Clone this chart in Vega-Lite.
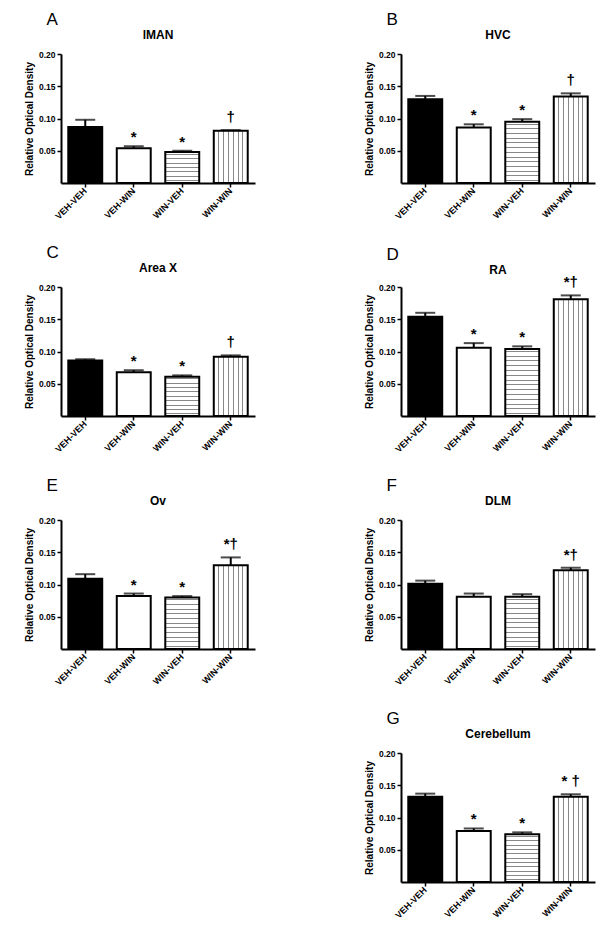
{
"$schema": "https://vega.github.io/schema/vega-lite/v6.json",
"padding": {"left": 24, "top": 11, "right": 5, "bottom": 5},
"datasets": {"d": [
{"panel":"A","cond":"VEH-VEH","mean":0.087,"upper":0.098,"sig":""},
{"panel":"A","cond":"VEH-WIN","mean":0.054,"upper":0.057,"sig":"*"},
{"panel":"A","cond":"WIN-VEH","mean":0.048,"upper":0.050,"sig":"*"},
{"panel":"A","cond":"WIN-WIN","mean":0.081,"upper":0.082,"sig":"†"},
{"panel":"B","cond":"VEH-VEH","mean":0.130,"upper":0.135,"sig":""},
{"panel":"B","cond":"VEH-WIN","mean":0.086,"upper":0.091,"sig":"*"},
{"panel":"B","cond":"WIN-VEH","mean":0.095,"upper":0.099,"sig":"*"},
{"panel":"B","cond":"WIN-WIN","mean":0.134,"upper":0.139,"sig":"†"},
{"panel":"C","cond":"VEH-VEH","mean":0.086,"upper":0.088,"sig":""},
{"panel":"C","cond":"VEH-WIN","mean":0.068,"upper":0.071,"sig":"*"},
{"panel":"C","cond":"WIN-VEH","mean":0.061,"upper":0.063,"sig":"*"},
{"panel":"C","cond":"WIN-WIN","mean":0.092,"upper":0.094,"sig":"†"},
{"panel":"D","cond":"VEH-VEH","mean":0.154,"upper":0.160,"sig":""},
{"panel":"D","cond":"VEH-WIN","mean":0.106,"upper":0.113,"sig":"*"},
{"panel":"D","cond":"WIN-VEH","mean":0.104,"upper":0.108,"sig":"*"},
{"panel":"D","cond":"WIN-WIN","mean":0.181,"upper":0.187,"sig":"*†"},
{"panel":"E","cond":"VEH-VEH","mean":0.109,"upper":0.116,"sig":""},
{"panel":"E","cond":"VEH-WIN","mean":0.082,"upper":0.086,"sig":"*"},
{"panel":"E","cond":"WIN-VEH","mean":0.080,"upper":0.082,"sig":"*"},
{"panel":"E","cond":"WIN-WIN","mean":0.130,"upper":0.142,"sig":"*†"},
{"panel":"F","cond":"VEH-VEH","mean":0.101,"upper":0.106,"sig":""},
{"panel":"F","cond":"VEH-WIN","mean":0.081,"upper":0.086,"sig":""},
{"panel":"F","cond":"WIN-VEH","mean":0.081,"upper":0.085,"sig":""},
{"panel":"F","cond":"WIN-WIN","mean":0.122,"upper":0.126,"sig":"*†"},
{"panel":"G","cond":"VEH-VEH","mean":0.132,"upper":0.137,"sig":""},
{"panel":"G","cond":"VEH-WIN","mean":0.079,"upper":0.083,"sig":"*"},
{"panel":"G","cond":"WIN-VEH","mean":0.074,"upper":0.077,"sig":"*"},
{"panel":"G","cond":"WIN-WIN","mean":0.132,"upper":0.136,"sig":"* †"}
]},
"columns": 2,
"spacing": {"row": 23, "column": 109},
"concat": [
{"title": {"text": "A", "anchor": "start", "fontSize": 17, "fontWeight": "normal", "dx": 22, "offset": 0, "frame": "bounds"},
 "vconcat": [{
  "width": 194, "height": 129,
  "title": {"text": "lMAN", "fontSize": 12, "fontWeight": "bold", "offset": 8},
  "data": {"name": "d"},
  "transform": [{"filter": "datum.panel==='A'"}],
  "encoding": {"x": {"field": "cond", "type": "nominal", "sort": ["VEH-VEH","VEH-WIN","WIN-VEH","WIN-WIN"], "scale": {"paddingInner": 0.3, "paddingOuter": 0.15}, "axis": {"title": null}}},
  "layer": [
   {"mark": {"type": "bar", "stroke": "black", "strokeWidth": 2},
    "encoding": {
     "y": {"field": "mean", "type": "quantitative", "title": "Relative Optical Density", "scale": {"domain": [0, 0.2], "nice": false}, "axis": {"values": [0.05, 0.1, 0.15, 0.2], "format": ".2f"}},
     "fill": {"condition": [
       {"test": "datum.cond==='VEH-VEH'", "value": "black"},
       {"test": "datum.cond==='WIN-VEH'", "value": {"gradient": "linear", "x1": 0, "y1": 0, "x2": 0, "y2": 1, "stops": [{"offset":0,"color":"#fff"},{"offset":0.055,"color":"#fff"},{"offset":0.055,"color":"#888"},{"offset":0.088,"color":"#888"},{"offset":0.088,"color":"#fff"},{"offset":0.198,"color":"#fff"},{"offset":0.198,"color":"#888"},{"offset":0.230,"color":"#888"},{"offset":0.230,"color":"#fff"},{"offset":0.341,"color":"#fff"},{"offset":0.341,"color":"#888"},{"offset":0.373,"color":"#888"},{"offset":0.373,"color":"#fff"},{"offset":0.484,"color":"#fff"},{"offset":0.484,"color":"#888"},{"offset":0.516,"color":"#888"},{"offset":0.516,"color":"#fff"},{"offset":0.627,"color":"#fff"},{"offset":0.627,"color":"#888"},{"offset":0.659,"color":"#888"},{"offset":0.659,"color":"#fff"},{"offset":0.770,"color":"#fff"},{"offset":0.770,"color":"#888"},{"offset":0.802,"color":"#888"},{"offset":0.802,"color":"#fff"},{"offset":0.913,"color":"#fff"},{"offset":0.913,"color":"#888"},{"offset":0.945,"color":"#888"},{"offset":0.945,"color":"#fff"},{"offset":1,"color":"#fff"}]}},
       {"test": "datum.cond==='WIN-WIN'", "value": {"gradient": "linear", "x1": 0, "y1": 0, "x2": 1, "y2": 0, "stops": [{"offset":0,"color":"#fff"},{"offset":0.128,"color":"#fff"},{"offset":0.128,"color":"#888"},{"offset":0.158,"color":"#888"},{"offset":0.158,"color":"#fff"},{"offset":0.271,"color":"#fff"},{"offset":0.271,"color":"#888"},{"offset":0.300,"color":"#888"},{"offset":0.300,"color":"#fff"},{"offset":0.414,"color":"#fff"},{"offset":0.414,"color":"#888"},{"offset":0.443,"color":"#888"},{"offset":0.443,"color":"#fff"},{"offset":0.557,"color":"#fff"},{"offset":0.557,"color":"#888"},{"offset":0.586,"color":"#888"},{"offset":0.586,"color":"#fff"},{"offset":0.700,"color":"#fff"},{"offset":0.700,"color":"#888"},{"offset":0.729,"color":"#888"},{"offset":0.729,"color":"#fff"},{"offset":0.842,"color":"#fff"},{"offset":0.842,"color":"#888"},{"offset":0.871,"color":"#888"},{"offset":0.871,"color":"#fff"},{"offset":1,"color":"#fff"}]}}
      ], "value": "white"}
    }},
   {"mark": {"type": "rule", "strokeWidth": 2, "color": "black"}, "encoding": {"y": {"field": "mean", "type": "quantitative", "title": "Relative Optical Density"}, "y2": {"field": "upper"}}},
   {"mark": {"type": "tick", "size": 20, "thickness": 2, "color": "black"}, "encoding": {"y": {"field": "upper", "type": "quantitative", "title": "Relative Optical Density"}}},
   {"transform": [{"filter": "datum.sig==='*'"}], "mark": {"type": "text", "fontSize": 15, "fontWeight": "bold", "baseline": "alphabetic", "dy": -4, "color": "black"}, "encoding": {"y": {"field": "upper", "type": "quantitative", "title": "Relative Optical Density"}, "text": {"field": "sig"}}},
   {"transform": [{"filter": "datum.sig!=='*' && datum.sig!==''"}], "mark": {"type": "text", "fontSize": 15, "fontWeight": "bold", "baseline": "alphabetic", "dy": -8, "color": "black"}, "encoding": {"y": {"field": "upper", "type": "quantitative", "title": "Relative Optical Density"}, "text": {"field": "sig"}}}
  ]
 }]
},
{"title": {"text": "B", "anchor": "start", "fontSize": 17, "fontWeight": "normal", "dx": 22, "offset": 0, "frame": "bounds"},
 "vconcat": [{
  "width": 194, "height": 129,
  "title": {"text": "HVC", "fontSize": 12, "fontWeight": "bold", "offset": 8},
  "data": {"name": "d"},
  "transform": [{"filter": "datum.panel==='B'"}],
  "encoding": {"x": {"field": "cond", "type": "nominal", "sort": ["VEH-VEH","VEH-WIN","WIN-VEH","WIN-WIN"], "scale": {"paddingInner": 0.3, "paddingOuter": 0.15}, "axis": {"title": null}}},
  "layer": [
   {"mark": {"type": "bar", "stroke": "black", "strokeWidth": 2},
    "encoding": {
     "y": {"field": "mean", "type": "quantitative", "title": "Relative Optical Density", "scale": {"domain": [0, 0.2], "nice": false}, "axis": {"values": [0.05, 0.1, 0.15, 0.2], "format": ".2f"}},
     "fill": {"condition": [
       {"test": "datum.cond==='VEH-VEH'", "value": "black"},
       {"test": "datum.cond==='WIN-VEH'", "value": {"gradient": "linear", "x1": 0, "y1": 0, "x2": 0, "y2": 1, "stops": [{"offset":0,"color":"#fff"},{"offset":0.030,"color":"#fff"},{"offset":0.030,"color":"#888"},{"offset":0.047,"color":"#888"},{"offset":0.047,"color":"#fff"},{"offset":0.107,"color":"#fff"},{"offset":0.107,"color":"#888"},{"offset":0.124,"color":"#888"},{"offset":0.124,"color":"#fff"},{"offset":0.184,"color":"#fff"},{"offset":0.184,"color":"#888"},{"offset":0.201,"color":"#888"},{"offset":0.201,"color":"#fff"},{"offset":0.261,"color":"#fff"},{"offset":0.261,"color":"#888"},{"offset":0.277,"color":"#888"},{"offset":0.277,"color":"#fff"},{"offset":0.338,"color":"#fff"},{"offset":0.338,"color":"#888"},{"offset":0.354,"color":"#888"},{"offset":0.354,"color":"#fff"},{"offset":0.415,"color":"#fff"},{"offset":0.415,"color":"#888"},{"offset":0.431,"color":"#888"},{"offset":0.431,"color":"#fff"},{"offset":0.492,"color":"#fff"},{"offset":0.492,"color":"#888"},{"offset":0.508,"color":"#888"},{"offset":0.508,"color":"#fff"},{"offset":0.569,"color":"#fff"},{"offset":0.569,"color":"#888"},{"offset":0.585,"color":"#888"},{"offset":0.585,"color":"#fff"},{"offset":0.646,"color":"#fff"},{"offset":0.646,"color":"#888"},{"offset":0.662,"color":"#888"},{"offset":0.662,"color":"#fff"},{"offset":0.723,"color":"#fff"},{"offset":0.723,"color":"#888"},{"offset":0.739,"color":"#888"},{"offset":0.739,"color":"#fff"},{"offset":0.800,"color":"#fff"},{"offset":0.800,"color":"#888"},{"offset":0.816,"color":"#888"},{"offset":0.816,"color":"#fff"},{"offset":0.876,"color":"#fff"},{"offset":0.876,"color":"#888"},{"offset":0.893,"color":"#888"},{"offset":0.893,"color":"#fff"},{"offset":0.953,"color":"#fff"},{"offset":0.953,"color":"#888"},{"offset":0.970,"color":"#888"},{"offset":0.970,"color":"#fff"},{"offset":1,"color":"#fff"}]}},
       {"test": "datum.cond==='WIN-WIN'", "value": {"gradient": "linear", "x1": 0, "y1": 0, "x2": 1, "y2": 0, "stops": [{"offset":0,"color":"#fff"},{"offset":0.128,"color":"#fff"},{"offset":0.128,"color":"#888"},{"offset":0.158,"color":"#888"},{"offset":0.158,"color":"#fff"},{"offset":0.271,"color":"#fff"},{"offset":0.271,"color":"#888"},{"offset":0.300,"color":"#888"},{"offset":0.300,"color":"#fff"},{"offset":0.414,"color":"#fff"},{"offset":0.414,"color":"#888"},{"offset":0.443,"color":"#888"},{"offset":0.443,"color":"#fff"},{"offset":0.557,"color":"#fff"},{"offset":0.557,"color":"#888"},{"offset":0.586,"color":"#888"},{"offset":0.586,"color":"#fff"},{"offset":0.700,"color":"#fff"},{"offset":0.700,"color":"#888"},{"offset":0.729,"color":"#888"},{"offset":0.729,"color":"#fff"},{"offset":0.842,"color":"#fff"},{"offset":0.842,"color":"#888"},{"offset":0.871,"color":"#888"},{"offset":0.871,"color":"#fff"},{"offset":1,"color":"#fff"}]}}
      ], "value": "white"}
    }},
   {"mark": {"type": "rule", "strokeWidth": 2, "color": "black"}, "encoding": {"y": {"field": "mean", "type": "quantitative", "title": "Relative Optical Density"}, "y2": {"field": "upper"}}},
   {"mark": {"type": "tick", "size": 20, "thickness": 2, "color": "black"}, "encoding": {"y": {"field": "upper", "type": "quantitative", "title": "Relative Optical Density"}}},
   {"transform": [{"filter": "datum.sig==='*'"}], "mark": {"type": "text", "fontSize": 15, "fontWeight": "bold", "baseline": "alphabetic", "dy": -4, "color": "black"}, "encoding": {"y": {"field": "upper", "type": "quantitative", "title": "Relative Optical Density"}, "text": {"field": "sig"}}},
   {"transform": [{"filter": "datum.sig!=='*' && datum.sig!==''"}], "mark": {"type": "text", "fontSize": 15, "fontWeight": "bold", "baseline": "alphabetic", "dy": -8, "color": "black"}, "encoding": {"y": {"field": "upper", "type": "quantitative", "title": "Relative Optical Density"}, "text": {"field": "sig"}}}
  ]
 }]
},
{"title": {"text": "C", "anchor": "start", "fontSize": 17, "fontWeight": "normal", "dx": 22, "offset": 0, "frame": "bounds"},
 "vconcat": [{
  "width": 194, "height": 129,
  "title": {"text": "Area X", "fontSize": 12, "fontWeight": "bold", "offset": 8},
  "data": {"name": "d"},
  "transform": [{"filter": "datum.panel==='C'"}],
  "encoding": {"x": {"field": "cond", "type": "nominal", "sort": ["VEH-VEH","VEH-WIN","WIN-VEH","WIN-WIN"], "scale": {"paddingInner": 0.3, "paddingOuter": 0.15}, "axis": {"title": null}}},
  "layer": [
   {"mark": {"type": "bar", "stroke": "black", "strokeWidth": 2},
    "encoding": {
     "y": {"field": "mean", "type": "quantitative", "title": "Relative Optical Density", "scale": {"domain": [0, 0.2], "nice": false}, "axis": {"values": [0.05, 0.1, 0.15, 0.2], "format": ".2f"}},
     "fill": {"condition": [
       {"test": "datum.cond==='VEH-VEH'", "value": "black"},
       {"test": "datum.cond==='WIN-VEH'", "value": {"gradient": "linear", "x1": 0, "y1": 0, "x2": 0, "y2": 1, "stops": [{"offset":0,"color":"#fff"},{"offset":0.043,"color":"#fff"},{"offset":0.043,"color":"#888"},{"offset":0.068,"color":"#888"},{"offset":0.068,"color":"#fff"},{"offset":0.154,"color":"#fff"},{"offset":0.154,"color":"#888"},{"offset":0.179,"color":"#888"},{"offset":0.179,"color":"#fff"},{"offset":0.265,"color":"#fff"},{"offset":0.265,"color":"#888"},{"offset":0.291,"color":"#888"},{"offset":0.291,"color":"#fff"},{"offset":0.376,"color":"#fff"},{"offset":0.376,"color":"#888"},{"offset":0.402,"color":"#888"},{"offset":0.402,"color":"#fff"},{"offset":0.487,"color":"#fff"},{"offset":0.487,"color":"#888"},{"offset":0.513,"color":"#888"},{"offset":0.513,"color":"#fff"},{"offset":0.598,"color":"#fff"},{"offset":0.598,"color":"#888"},{"offset":0.624,"color":"#888"},{"offset":0.624,"color":"#fff"},{"offset":0.709,"color":"#fff"},{"offset":0.709,"color":"#888"},{"offset":0.735,"color":"#888"},{"offset":0.735,"color":"#fff"},{"offset":0.821,"color":"#fff"},{"offset":0.821,"color":"#888"},{"offset":0.846,"color":"#888"},{"offset":0.846,"color":"#fff"},{"offset":0.932,"color":"#fff"},{"offset":0.932,"color":"#888"},{"offset":0.957,"color":"#888"},{"offset":0.957,"color":"#fff"},{"offset":1,"color":"#fff"}]}},
       {"test": "datum.cond==='WIN-WIN'", "value": {"gradient": "linear", "x1": 0, "y1": 0, "x2": 1, "y2": 0, "stops": [{"offset":0,"color":"#fff"},{"offset":0.128,"color":"#fff"},{"offset":0.128,"color":"#888"},{"offset":0.158,"color":"#888"},{"offset":0.158,"color":"#fff"},{"offset":0.271,"color":"#fff"},{"offset":0.271,"color":"#888"},{"offset":0.300,"color":"#888"},{"offset":0.300,"color":"#fff"},{"offset":0.414,"color":"#fff"},{"offset":0.414,"color":"#888"},{"offset":0.443,"color":"#888"},{"offset":0.443,"color":"#fff"},{"offset":0.557,"color":"#fff"},{"offset":0.557,"color":"#888"},{"offset":0.586,"color":"#888"},{"offset":0.586,"color":"#fff"},{"offset":0.700,"color":"#fff"},{"offset":0.700,"color":"#888"},{"offset":0.729,"color":"#888"},{"offset":0.729,"color":"#fff"},{"offset":0.842,"color":"#fff"},{"offset":0.842,"color":"#888"},{"offset":0.871,"color":"#888"},{"offset":0.871,"color":"#fff"},{"offset":1,"color":"#fff"}]}}
      ], "value": "white"}
    }},
   {"mark": {"type": "rule", "strokeWidth": 2, "color": "black"}, "encoding": {"y": {"field": "mean", "type": "quantitative", "title": "Relative Optical Density"}, "y2": {"field": "upper"}}},
   {"mark": {"type": "tick", "size": 20, "thickness": 2, "color": "black"}, "encoding": {"y": {"field": "upper", "type": "quantitative", "title": "Relative Optical Density"}}},
   {"transform": [{"filter": "datum.sig==='*'"}], "mark": {"type": "text", "fontSize": 15, "fontWeight": "bold", "baseline": "alphabetic", "dy": -4, "color": "black"}, "encoding": {"y": {"field": "upper", "type": "quantitative", "title": "Relative Optical Density"}, "text": {"field": "sig"}}},
   {"transform": [{"filter": "datum.sig!=='*' && datum.sig!==''"}], "mark": {"type": "text", "fontSize": 15, "fontWeight": "bold", "baseline": "alphabetic", "dy": -8, "color": "black"}, "encoding": {"y": {"field": "upper", "type": "quantitative", "title": "Relative Optical Density"}, "text": {"field": "sig"}}}
  ]
 }]
},
{"title": {"text": "D", "anchor": "start", "fontSize": 17, "fontWeight": "normal", "dx": 22, "offset": 0, "frame": "bounds"},
 "vconcat": [{
  "width": 194, "height": 129,
  "title": {"text": "RA", "fontSize": 12, "fontWeight": "bold", "offset": -2},
  "data": {"name": "d"},
  "transform": [{"filter": "datum.panel==='D'"}],
  "encoding": {"x": {"field": "cond", "type": "nominal", "sort": ["VEH-VEH","VEH-WIN","WIN-VEH","WIN-WIN"], "scale": {"paddingInner": 0.3, "paddingOuter": 0.15}, "axis": {"title": null}}},
  "layer": [
   {"mark": {"type": "bar", "stroke": "black", "strokeWidth": 2},
    "encoding": {
     "y": {"field": "mean", "type": "quantitative", "title": "Relative Optical Density", "scale": {"domain": [0, 0.2], "nice": false}, "axis": {"values": [0.05, 0.1, 0.15, 0.2], "format": ".2f"}},
     "fill": {"condition": [
       {"test": "datum.cond==='VEH-VEH'", "value": "black"},
       {"test": "datum.cond==='WIN-VEH'", "value": {"gradient": "linear", "x1": 0, "y1": 0, "x2": 0, "y2": 1, "stops": [{"offset":0,"color":"#fff"},{"offset":0.028,"color":"#fff"},{"offset":0.028,"color":"#888"},{"offset":0.043,"color":"#888"},{"offset":0.043,"color":"#fff"},{"offset":0.100,"color":"#fff"},{"offset":0.100,"color":"#888"},{"offset":0.115,"color":"#888"},{"offset":0.115,"color":"#fff"},{"offset":0.171,"color":"#fff"},{"offset":0.171,"color":"#888"},{"offset":0.186,"color":"#888"},{"offset":0.186,"color":"#fff"},{"offset":0.243,"color":"#fff"},{"offset":0.243,"color":"#888"},{"offset":0.258,"color":"#888"},{"offset":0.258,"color":"#fff"},{"offset":0.314,"color":"#fff"},{"offset":0.314,"color":"#888"},{"offset":0.329,"color":"#888"},{"offset":0.329,"color":"#fff"},{"offset":0.385,"color":"#fff"},{"offset":0.385,"color":"#888"},{"offset":0.400,"color":"#888"},{"offset":0.400,"color":"#fff"},{"offset":0.457,"color":"#fff"},{"offset":0.457,"color":"#888"},{"offset":0.472,"color":"#888"},{"offset":0.472,"color":"#fff"},{"offset":0.528,"color":"#fff"},{"offset":0.528,"color":"#888"},{"offset":0.543,"color":"#888"},{"offset":0.543,"color":"#fff"},{"offset":0.600,"color":"#fff"},{"offset":0.600,"color":"#888"},{"offset":0.615,"color":"#888"},{"offset":0.615,"color":"#fff"},{"offset":0.671,"color":"#fff"},{"offset":0.671,"color":"#888"},{"offset":0.686,"color":"#888"},{"offset":0.686,"color":"#fff"},{"offset":0.743,"color":"#fff"},{"offset":0.743,"color":"#888"},{"offset":0.758,"color":"#888"},{"offset":0.758,"color":"#fff"},{"offset":0.814,"color":"#fff"},{"offset":0.814,"color":"#888"},{"offset":0.829,"color":"#888"},{"offset":0.829,"color":"#fff"},{"offset":0.885,"color":"#fff"},{"offset":0.885,"color":"#888"},{"offset":0.900,"color":"#888"},{"offset":0.900,"color":"#fff"},{"offset":0.957,"color":"#fff"},{"offset":0.957,"color":"#888"},{"offset":0.972,"color":"#888"},{"offset":0.972,"color":"#fff"},{"offset":1,"color":"#fff"}]}},
       {"test": "datum.cond==='WIN-WIN'", "value": {"gradient": "linear", "x1": 0, "y1": 0, "x2": 1, "y2": 0, "stops": [{"offset":0,"color":"#fff"},{"offset":0.128,"color":"#fff"},{"offset":0.128,"color":"#888"},{"offset":0.158,"color":"#888"},{"offset":0.158,"color":"#fff"},{"offset":0.271,"color":"#fff"},{"offset":0.271,"color":"#888"},{"offset":0.300,"color":"#888"},{"offset":0.300,"color":"#fff"},{"offset":0.414,"color":"#fff"},{"offset":0.414,"color":"#888"},{"offset":0.443,"color":"#888"},{"offset":0.443,"color":"#fff"},{"offset":0.557,"color":"#fff"},{"offset":0.557,"color":"#888"},{"offset":0.586,"color":"#888"},{"offset":0.586,"color":"#fff"},{"offset":0.700,"color":"#fff"},{"offset":0.700,"color":"#888"},{"offset":0.729,"color":"#888"},{"offset":0.729,"color":"#fff"},{"offset":0.842,"color":"#fff"},{"offset":0.842,"color":"#888"},{"offset":0.871,"color":"#888"},{"offset":0.871,"color":"#fff"},{"offset":1,"color":"#fff"}]}}
      ], "value": "white"}
    }},
   {"mark": {"type": "rule", "strokeWidth": 2, "color": "black"}, "encoding": {"y": {"field": "mean", "type": "quantitative", "title": "Relative Optical Density"}, "y2": {"field": "upper"}}},
   {"mark": {"type": "tick", "size": 20, "thickness": 2, "color": "black"}, "encoding": {"y": {"field": "upper", "type": "quantitative", "title": "Relative Optical Density"}}},
   {"transform": [{"filter": "datum.sig==='*'"}], "mark": {"type": "text", "fontSize": 15, "fontWeight": "bold", "baseline": "alphabetic", "dy": -4, "color": "black"}, "encoding": {"y": {"field": "upper", "type": "quantitative", "title": "Relative Optical Density"}, "text": {"field": "sig"}}},
   {"transform": [{"filter": "datum.sig!=='*' && datum.sig!==''"}], "mark": {"type": "text", "fontSize": 15, "fontWeight": "bold", "baseline": "alphabetic", "dy": -8, "color": "black"}, "encoding": {"y": {"field": "upper", "type": "quantitative", "title": "Relative Optical Density"}, "text": {"field": "sig"}}}
  ]
 }]
},
{"title": {"text": "E", "anchor": "start", "fontSize": 17, "fontWeight": "normal", "dx": 22, "offset": 0, "frame": "bounds"},
 "vconcat": [{
  "width": 194, "height": 129,
  "title": {"text": "Ov", "fontSize": 12, "fontWeight": "bold", "offset": 8},
  "data": {"name": "d"},
  "transform": [{"filter": "datum.panel==='E'"}],
  "encoding": {"x": {"field": "cond", "type": "nominal", "sort": ["VEH-VEH","VEH-WIN","WIN-VEH","WIN-WIN"], "scale": {"paddingInner": 0.3, "paddingOuter": 0.15}, "axis": {"title": null}}},
  "layer": [
   {"mark": {"type": "bar", "stroke": "black", "strokeWidth": 2},
    "encoding": {
     "y": {"field": "mean", "type": "quantitative", "title": "Relative Optical Density", "scale": {"domain": [0, 0.2], "nice": false}, "axis": {"values": [0.05, 0.1, 0.15, 0.2], "format": ".2f"}},
     "fill": {"condition": [
       {"test": "datum.cond==='VEH-VEH'", "value": "black"},
       {"test": "datum.cond==='WIN-VEH'", "value": {"gradient": "linear", "x1": 0, "y1": 0, "x2": 0, "y2": 1, "stops": [{"offset":0,"color":"#fff"},{"offset":0.036,"color":"#fff"},{"offset":0.036,"color":"#888"},{"offset":0.055,"color":"#888"},{"offset":0.055,"color":"#fff"},{"offset":0.127,"color":"#fff"},{"offset":0.127,"color":"#888"},{"offset":0.146,"color":"#888"},{"offset":0.146,"color":"#fff"},{"offset":0.218,"color":"#fff"},{"offset":0.218,"color":"#888"},{"offset":0.237,"color":"#888"},{"offset":0.237,"color":"#fff"},{"offset":0.309,"color":"#fff"},{"offset":0.309,"color":"#888"},{"offset":0.328,"color":"#888"},{"offset":0.328,"color":"#fff"},{"offset":0.400,"color":"#fff"},{"offset":0.400,"color":"#888"},{"offset":0.419,"color":"#888"},{"offset":0.419,"color":"#fff"},{"offset":0.490,"color":"#fff"},{"offset":0.490,"color":"#888"},{"offset":0.510,"color":"#888"},{"offset":0.510,"color":"#fff"},{"offset":0.581,"color":"#fff"},{"offset":0.581,"color":"#888"},{"offset":0.600,"color":"#888"},{"offset":0.600,"color":"#fff"},{"offset":0.672,"color":"#fff"},{"offset":0.672,"color":"#888"},{"offset":0.691,"color":"#888"},{"offset":0.691,"color":"#fff"},{"offset":0.763,"color":"#fff"},{"offset":0.763,"color":"#888"},{"offset":0.782,"color":"#888"},{"offset":0.782,"color":"#fff"},{"offset":0.854,"color":"#fff"},{"offset":0.854,"color":"#888"},{"offset":0.873,"color":"#888"},{"offset":0.873,"color":"#fff"},{"offset":0.945,"color":"#fff"},{"offset":0.945,"color":"#888"},{"offset":0.964,"color":"#888"},{"offset":0.964,"color":"#fff"},{"offset":1,"color":"#fff"}]}},
       {"test": "datum.cond==='WIN-WIN'", "value": {"gradient": "linear", "x1": 0, "y1": 0, "x2": 1, "y2": 0, "stops": [{"offset":0,"color":"#fff"},{"offset":0.128,"color":"#fff"},{"offset":0.128,"color":"#888"},{"offset":0.158,"color":"#888"},{"offset":0.158,"color":"#fff"},{"offset":0.271,"color":"#fff"},{"offset":0.271,"color":"#888"},{"offset":0.300,"color":"#888"},{"offset":0.300,"color":"#fff"},{"offset":0.414,"color":"#fff"},{"offset":0.414,"color":"#888"},{"offset":0.443,"color":"#888"},{"offset":0.443,"color":"#fff"},{"offset":0.557,"color":"#fff"},{"offset":0.557,"color":"#888"},{"offset":0.586,"color":"#888"},{"offset":0.586,"color":"#fff"},{"offset":0.700,"color":"#fff"},{"offset":0.700,"color":"#888"},{"offset":0.729,"color":"#888"},{"offset":0.729,"color":"#fff"},{"offset":0.842,"color":"#fff"},{"offset":0.842,"color":"#888"},{"offset":0.871,"color":"#888"},{"offset":0.871,"color":"#fff"},{"offset":1,"color":"#fff"}]}}
      ], "value": "white"}
    }},
   {"mark": {"type": "rule", "strokeWidth": 2, "color": "black"}, "encoding": {"y": {"field": "mean", "type": "quantitative", "title": "Relative Optical Density"}, "y2": {"field": "upper"}}},
   {"mark": {"type": "tick", "size": 20, "thickness": 2, "color": "black"}, "encoding": {"y": {"field": "upper", "type": "quantitative", "title": "Relative Optical Density"}}},
   {"transform": [{"filter": "datum.sig==='*'"}], "mark": {"type": "text", "fontSize": 15, "fontWeight": "bold", "baseline": "alphabetic", "dy": -4, "color": "black"}, "encoding": {"y": {"field": "upper", "type": "quantitative", "title": "Relative Optical Density"}, "text": {"field": "sig"}}},
   {"transform": [{"filter": "datum.sig!=='*' && datum.sig!==''"}], "mark": {"type": "text", "fontSize": 15, "fontWeight": "bold", "baseline": "alphabetic", "dy": -8, "color": "black"}, "encoding": {"y": {"field": "upper", "type": "quantitative", "title": "Relative Optical Density"}, "text": {"field": "sig"}}}
  ]
 }]
},
{"title": {"text": "F", "anchor": "start", "fontSize": 17, "fontWeight": "normal", "dx": 22, "offset": 0, "frame": "bounds"},
 "vconcat": [{
  "width": 194, "height": 129,
  "title": {"text": "DLM", "fontSize": 12, "fontWeight": "bold", "offset": 8},
  "data": {"name": "d"},
  "transform": [{"filter": "datum.panel==='F'"}],
  "encoding": {"x": {"field": "cond", "type": "nominal", "sort": ["VEH-VEH","VEH-WIN","WIN-VEH","WIN-WIN"], "scale": {"paddingInner": 0.3, "paddingOuter": 0.15}, "axis": {"title": null}}},
  "layer": [
   {"mark": {"type": "bar", "stroke": "black", "strokeWidth": 2},
    "encoding": {
     "y": {"field": "mean", "type": "quantitative", "title": "Relative Optical Density", "scale": {"domain": [0, 0.2], "nice": false}, "axis": {"values": [0.05, 0.1, 0.15, 0.2], "format": ".2f"}},
     "fill": {"condition": [
       {"test": "datum.cond==='VEH-VEH'", "value": "black"},
       {"test": "datum.cond==='WIN-VEH'", "value": {"gradient": "linear", "x1": 0, "y1": 0, "x2": 0, "y2": 1, "stops": [{"offset":0,"color":"#fff"},{"offset":0.036,"color":"#fff"},{"offset":0.036,"color":"#888"},{"offset":0.055,"color":"#888"},{"offset":0.055,"color":"#fff"},{"offset":0.127,"color":"#fff"},{"offset":0.127,"color":"#888"},{"offset":0.146,"color":"#888"},{"offset":0.146,"color":"#fff"},{"offset":0.218,"color":"#fff"},{"offset":0.218,"color":"#888"},{"offset":0.237,"color":"#888"},{"offset":0.237,"color":"#fff"},{"offset":0.309,"color":"#fff"},{"offset":0.309,"color":"#888"},{"offset":0.328,"color":"#888"},{"offset":0.328,"color":"#fff"},{"offset":0.400,"color":"#fff"},{"offset":0.400,"color":"#888"},{"offset":0.419,"color":"#888"},{"offset":0.419,"color":"#fff"},{"offset":0.490,"color":"#fff"},{"offset":0.490,"color":"#888"},{"offset":0.510,"color":"#888"},{"offset":0.510,"color":"#fff"},{"offset":0.581,"color":"#fff"},{"offset":0.581,"color":"#888"},{"offset":0.600,"color":"#888"},{"offset":0.600,"color":"#fff"},{"offset":0.672,"color":"#fff"},{"offset":0.672,"color":"#888"},{"offset":0.691,"color":"#888"},{"offset":0.691,"color":"#fff"},{"offset":0.763,"color":"#fff"},{"offset":0.763,"color":"#888"},{"offset":0.782,"color":"#888"},{"offset":0.782,"color":"#fff"},{"offset":0.854,"color":"#fff"},{"offset":0.854,"color":"#888"},{"offset":0.873,"color":"#888"},{"offset":0.873,"color":"#fff"},{"offset":0.945,"color":"#fff"},{"offset":0.945,"color":"#888"},{"offset":0.964,"color":"#888"},{"offset":0.964,"color":"#fff"},{"offset":1,"color":"#fff"}]}},
       {"test": "datum.cond==='WIN-WIN'", "value": {"gradient": "linear", "x1": 0, "y1": 0, "x2": 1, "y2": 0, "stops": [{"offset":0,"color":"#fff"},{"offset":0.128,"color":"#fff"},{"offset":0.128,"color":"#888"},{"offset":0.158,"color":"#888"},{"offset":0.158,"color":"#fff"},{"offset":0.271,"color":"#fff"},{"offset":0.271,"color":"#888"},{"offset":0.300,"color":"#888"},{"offset":0.300,"color":"#fff"},{"offset":0.414,"color":"#fff"},{"offset":0.414,"color":"#888"},{"offset":0.443,"color":"#888"},{"offset":0.443,"color":"#fff"},{"offset":0.557,"color":"#fff"},{"offset":0.557,"color":"#888"},{"offset":0.586,"color":"#888"},{"offset":0.586,"color":"#fff"},{"offset":0.700,"color":"#fff"},{"offset":0.700,"color":"#888"},{"offset":0.729,"color":"#888"},{"offset":0.729,"color":"#fff"},{"offset":0.842,"color":"#fff"},{"offset":0.842,"color":"#888"},{"offset":0.871,"color":"#888"},{"offset":0.871,"color":"#fff"},{"offset":1,"color":"#fff"}]}}
      ], "value": "white"}
    }},
   {"mark": {"type": "rule", "strokeWidth": 2, "color": "black"}, "encoding": {"y": {"field": "mean", "type": "quantitative", "title": "Relative Optical Density"}, "y2": {"field": "upper"}}},
   {"mark": {"type": "tick", "size": 20, "thickness": 2, "color": "black"}, "encoding": {"y": {"field": "upper", "type": "quantitative", "title": "Relative Optical Density"}}},
   {"transform": [{"filter": "datum.sig==='*'"}], "mark": {"type": "text", "fontSize": 15, "fontWeight": "bold", "baseline": "alphabetic", "dy": -4, "color": "black"}, "encoding": {"y": {"field": "upper", "type": "quantitative", "title": "Relative Optical Density"}, "text": {"field": "sig"}}},
   {"transform": [{"filter": "datum.sig!=='*' && datum.sig!==''"}], "mark": {"type": "text", "fontSize": 15, "fontWeight": "bold", "baseline": "alphabetic", "dy": -8, "color": "black"}, "encoding": {"y": {"field": "upper", "type": "quantitative", "title": "Relative Optical Density"}, "text": {"field": "sig"}}}
  ]
 }]
},
{"width": 194, "height": 129, "data": {"name": "d"}, "transform": [{"filter": "false"}], "mark": "point", "encoding": {}},
{"title": {"text": "G", "anchor": "start", "fontSize": 17, "fontWeight": "normal", "dx": 22, "offset": 0, "frame": "bounds"},
 "vconcat": [{
  "width": 194, "height": 129,
  "title": {"text": "Cerebellum", "fontSize": 12, "fontWeight": "bold", "offset": 8},
  "data": {"name": "d"},
  "transform": [{"filter": "datum.panel==='G'"}],
  "encoding": {"x": {"field": "cond", "type": "nominal", "sort": ["VEH-VEH","VEH-WIN","WIN-VEH","WIN-WIN"], "scale": {"paddingInner": 0.3, "paddingOuter": 0.15}, "axis": {"title": null}}},
  "layer": [
   {"mark": {"type": "bar", "stroke": "black", "strokeWidth": 2},
    "encoding": {
     "y": {"field": "mean", "type": "quantitative", "title": "Relative Optical Density", "scale": {"domain": [0, 0.2], "nice": false}, "axis": {"values": [0.05, 0.1, 0.15, 0.2], "format": ".2f"}},
     "fill": {"condition": [
       {"test": "datum.cond==='VEH-VEH'", "value": "black"},
       {"test": "datum.cond==='WIN-VEH'", "value": {"gradient": "linear", "x1": 0, "y1": 0, "x2": 0, "y2": 1, "stops": [{"offset":0,"color":"#fff"},{"offset":0.036,"color":"#fff"},{"offset":0.036,"color":"#888"},{"offset":0.055,"color":"#888"},{"offset":0.055,"color":"#fff"},{"offset":0.127,"color":"#fff"},{"offset":0.127,"color":"#888"},{"offset":0.146,"color":"#888"},{"offset":0.146,"color":"#fff"},{"offset":0.218,"color":"#fff"},{"offset":0.218,"color":"#888"},{"offset":0.237,"color":"#888"},{"offset":0.237,"color":"#fff"},{"offset":0.309,"color":"#fff"},{"offset":0.309,"color":"#888"},{"offset":0.328,"color":"#888"},{"offset":0.328,"color":"#fff"},{"offset":0.400,"color":"#fff"},{"offset":0.400,"color":"#888"},{"offset":0.419,"color":"#888"},{"offset":0.419,"color":"#fff"},{"offset":0.490,"color":"#fff"},{"offset":0.490,"color":"#888"},{"offset":0.510,"color":"#888"},{"offset":0.510,"color":"#fff"},{"offset":0.581,"color":"#fff"},{"offset":0.581,"color":"#888"},{"offset":0.600,"color":"#888"},{"offset":0.600,"color":"#fff"},{"offset":0.672,"color":"#fff"},{"offset":0.672,"color":"#888"},{"offset":0.691,"color":"#888"},{"offset":0.691,"color":"#fff"},{"offset":0.763,"color":"#fff"},{"offset":0.763,"color":"#888"},{"offset":0.782,"color":"#888"},{"offset":0.782,"color":"#fff"},{"offset":0.854,"color":"#fff"},{"offset":0.854,"color":"#888"},{"offset":0.873,"color":"#888"},{"offset":0.873,"color":"#fff"},{"offset":0.945,"color":"#fff"},{"offset":0.945,"color":"#888"},{"offset":0.964,"color":"#888"},{"offset":0.964,"color":"#fff"},{"offset":1,"color":"#fff"}]}},
       {"test": "datum.cond==='WIN-WIN'", "value": {"gradient": "linear", "x1": 0, "y1": 0, "x2": 1, "y2": 0, "stops": [{"offset":0,"color":"#fff"},{"offset":0.128,"color":"#fff"},{"offset":0.128,"color":"#888"},{"offset":0.158,"color":"#888"},{"offset":0.158,"color":"#fff"},{"offset":0.271,"color":"#fff"},{"offset":0.271,"color":"#888"},{"offset":0.300,"color":"#888"},{"offset":0.300,"color":"#fff"},{"offset":0.414,"color":"#fff"},{"offset":0.414,"color":"#888"},{"offset":0.443,"color":"#888"},{"offset":0.443,"color":"#fff"},{"offset":0.557,"color":"#fff"},{"offset":0.557,"color":"#888"},{"offset":0.586,"color":"#888"},{"offset":0.586,"color":"#fff"},{"offset":0.700,"color":"#fff"},{"offset":0.700,"color":"#888"},{"offset":0.729,"color":"#888"},{"offset":0.729,"color":"#fff"},{"offset":0.842,"color":"#fff"},{"offset":0.842,"color":"#888"},{"offset":0.871,"color":"#888"},{"offset":0.871,"color":"#fff"},{"offset":1,"color":"#fff"}]}}
      ], "value": "white"}
    }},
   {"mark": {"type": "rule", "strokeWidth": 2, "color": "black"}, "encoding": {"y": {"field": "mean", "type": "quantitative", "title": "Relative Optical Density"}, "y2": {"field": "upper"}}},
   {"mark": {"type": "tick", "size": 20, "thickness": 2, "color": "black"}, "encoding": {"y": {"field": "upper", "type": "quantitative", "title": "Relative Optical Density"}}},
   {"transform": [{"filter": "datum.sig==='*'"}], "mark": {"type": "text", "fontSize": 15, "fontWeight": "bold", "baseline": "alphabetic", "dy": -4, "color": "black"}, "encoding": {"y": {"field": "upper", "type": "quantitative", "title": "Relative Optical Density"}, "text": {"field": "sig"}}},
   {"transform": [{"filter": "datum.sig!=='*' && datum.sig!==''"}], "mark": {"type": "text", "fontSize": 15, "fontWeight": "bold", "baseline": "alphabetic", "dy": -8, "color": "black"}, "encoding": {"y": {"field": "upper", "type": "quantitative", "title": "Relative Optical Density"}, "text": {"field": "sig"}}}
  ]
 }]
}
],
"config": {
 "font": "Liberation Sans",
 "view": {"stroke": null},
 "axis": {"domainColor": "black", "domainWidth": 2, "tickColor": "black", "tickWidth": 1.5, "tickSize": 4, "labelColor": "black", "labelFont": "Liberation Sans", "labelFontWeight": "bold", "titleFont": "Liberation Sans", "titleColor": "black", "titleFontWeight": "bold", "grid": false},
 "axisX": {"labelAngle": -45, "labelAlign": "right", "labelBaseline": "middle", "labelFontSize": 9, "labelPadding": 2},
 "axisY": {"labelFontSize": 8.5, "labelPadding": 2, "titleFontSize": 10, "titlePadding": 4},
 "title": {"font": "Liberation Sans", "color": "black"}
}
}
